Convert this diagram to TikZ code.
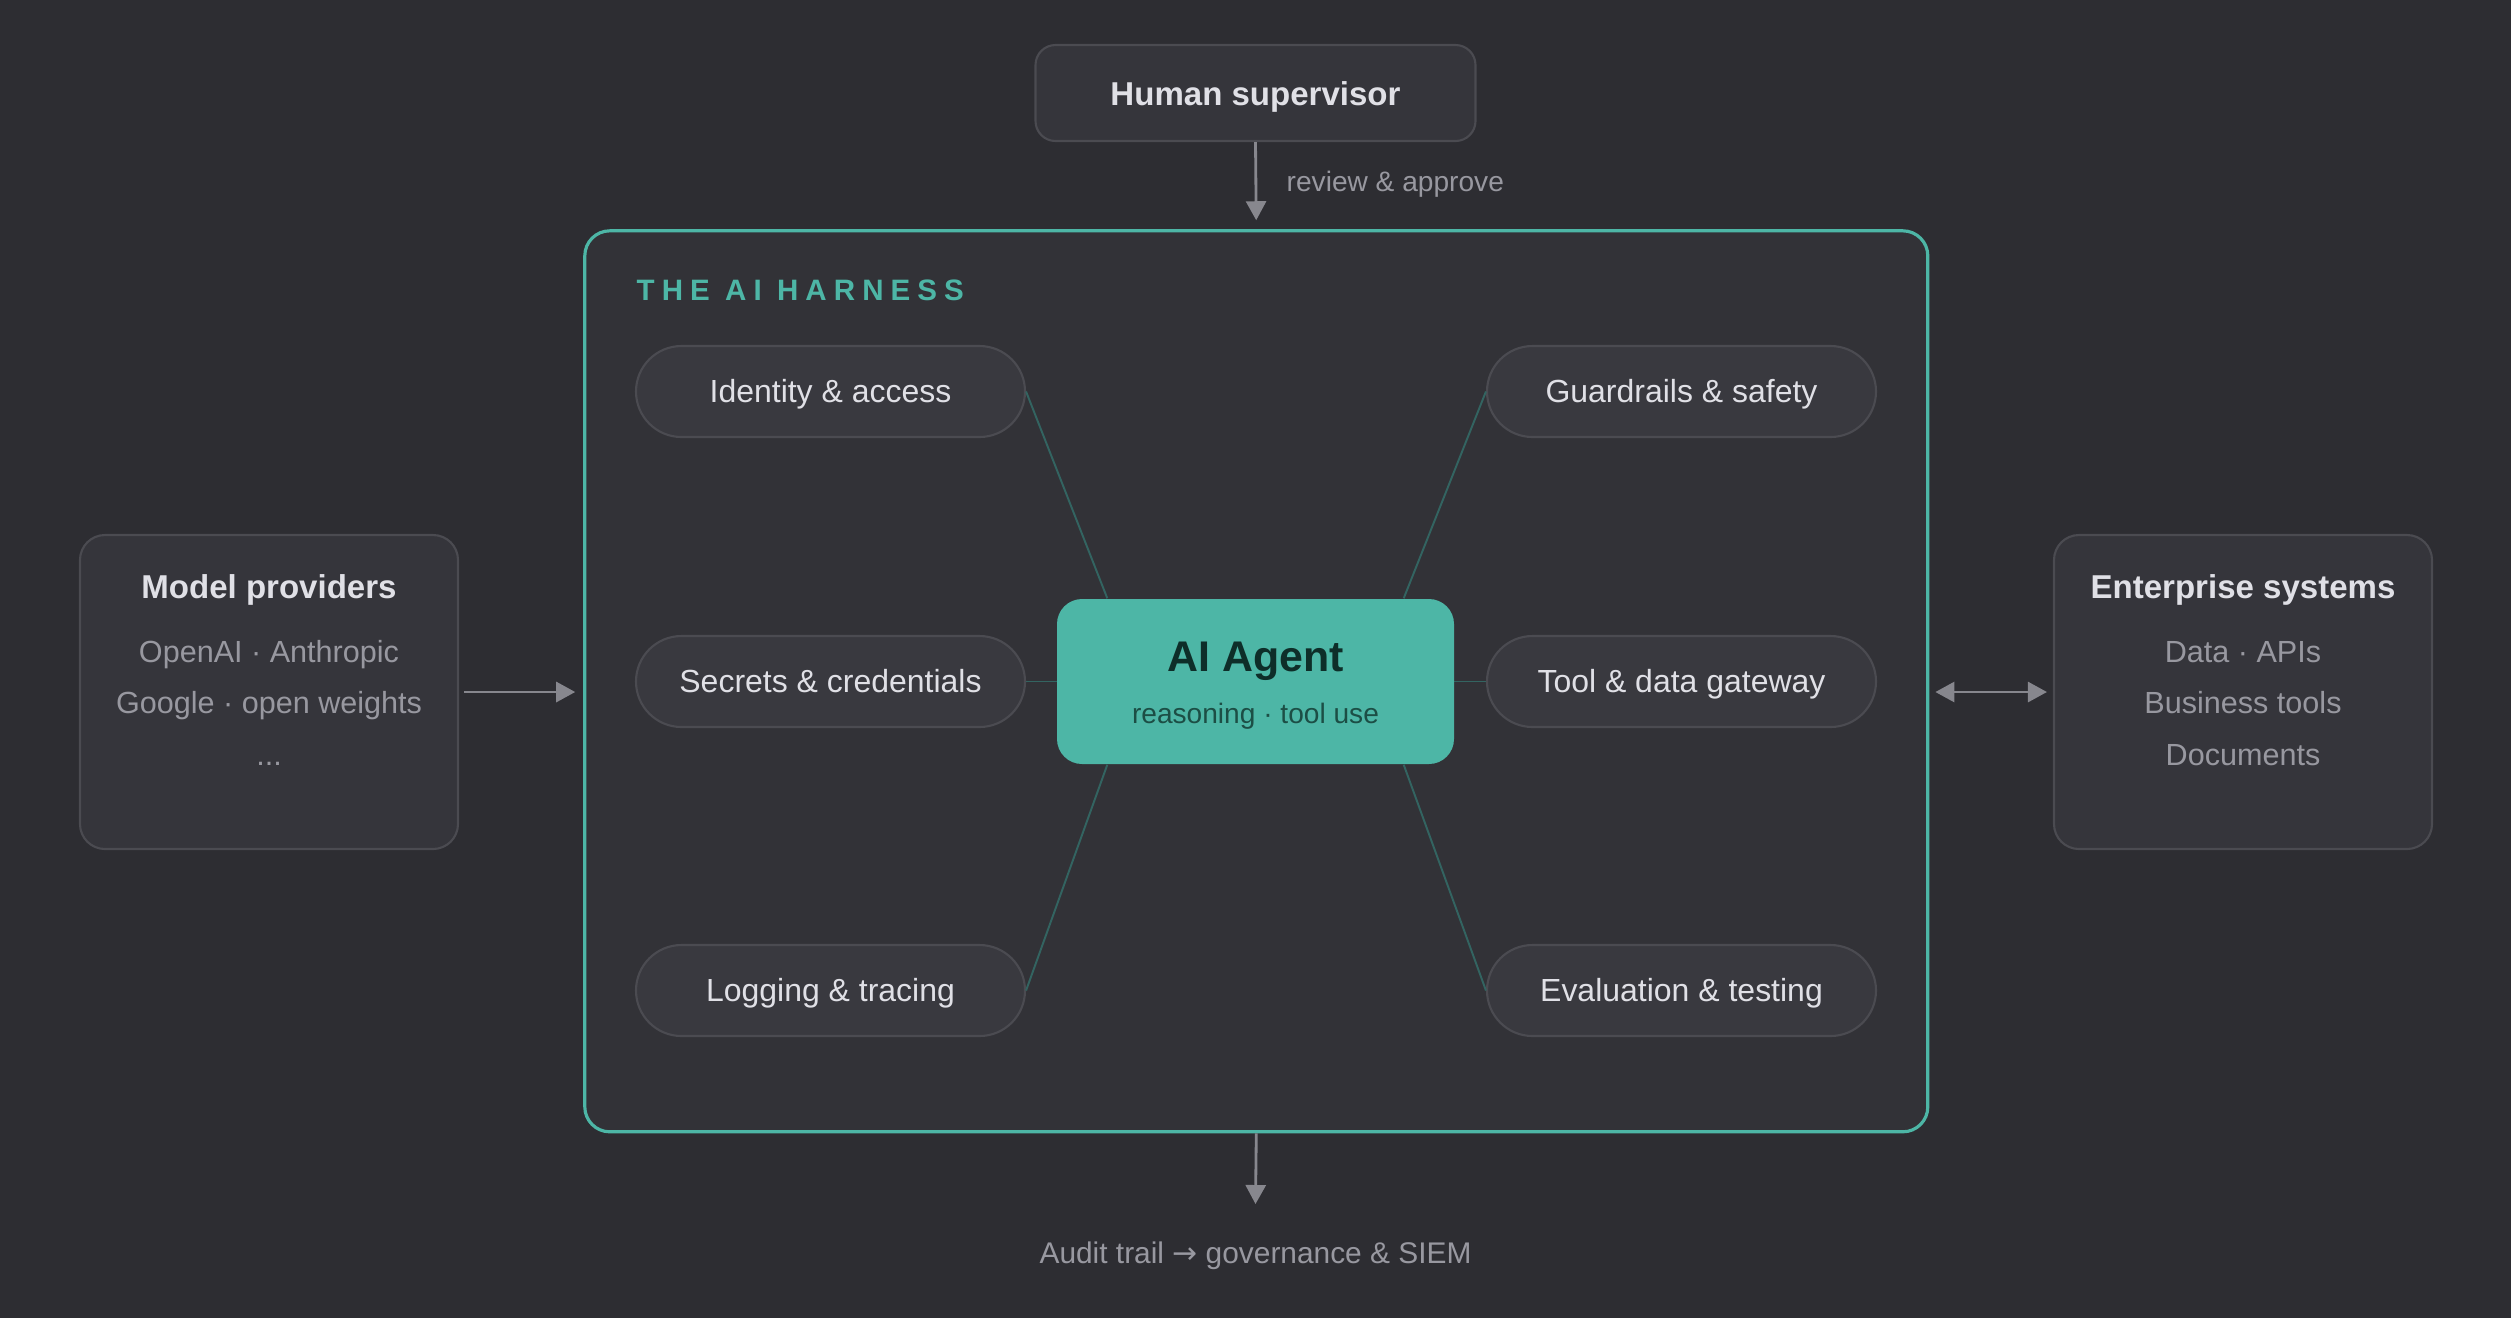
\documentclass[tikz,border=0pt]{standalone}
\usepackage{fontspec}
\setmainfont{Liberation Sans}
\newfontfamily\arrowfont{DejaVu Sans}
\usetikzlibrary{arrows.meta}

\definecolor{bgc}{RGB}{45,45,50}
\definecolor{harnessfill}{RGB}{50,50,55}
\definecolor{boxfill}{RGB}{53,53,59}
\definecolor{pillfill}{RGB}{57,57,63}
\definecolor{boxline}{RGB}{75,75,81}
\definecolor{teal}{RGB}{77,182,166}
\definecolor{agenttext}{RGB}{14,46,41}
\definecolor{agentsub}{RGB}{28,78,69}
\definecolor{lighttext}{RGB}{224,224,230}
\definecolor{graytext}{RGB}{152,152,160}
\definecolor{arrowgray}{RGB}{135,135,142}
\definecolor{linkteal}{RGB}{51,100,97}

\begin{document}
\begin{tikzpicture}[
supnode/.style={rectangle, draw=boxline, fill=boxfill, line width=0.6pt, rounded corners=0.2cm, minimum width=4.4cm, minimum height=0.96cm, text height=0.3cm, text depth=0.06cm, text=lighttext, font=\bfseries\fontsize{9.4}{11}\selectfont},
sidenode/.style={rectangle, draw=boxline, fill=boxfill, line width=0.6pt, rounded corners=0.25cm, minimum width=3.78cm, minimum height=3.14cm},
pillnode/.style={rectangle, draw=boxline, fill=pillfill, line width=0.6pt, rounded corners=0.455cm, minimum width=3.89cm, minimum height=0.91cm, text height=0.28cm, text depth=0.06cm, text=lighttext, font=\fontsize{9.1}{11}\selectfont},
agentnode/.style={rectangle, fill=teal, rounded corners=0.25cm, minimum width=3.97cm, minimum height=1.65cm},
titletext/.style={anchor=base, inner sep=0pt, text=lighttext, font=\bfseries\fontsize{9.4}{11}\selectfont},
graytext/.style={anchor=base, inner sep=0pt, text=graytext, font=\fontsize{8.7}{10}\selectfont},
link/.style={draw=linkteal, line width=0.55pt},
flow/.style={draw=arrowgray, line width=0.8pt, -{Triangle[width=0.2cm, length=0.19cm]}},]

\fill[bgc] (0, 0) rectangle (25.11, -13.18);

\node (sup) [supnode] at (12.555, -0.93) {Human supervisor};

\node (review) [graytext, anchor=base west, font=\fontsize{8.0}{10}\selectfont] at (12.86, -1.91) {review \& approve};

\node (harness) [rectangle, draw=teal, fill=harnessfill, line width=0.9pt, rounded corners=0.25cm, minimum width=13.43cm, minimum height=9.01cm] at (12.563, -6.813) {};

\node (harnesstitle) [anchor=base west, inner sep=0pt, text=teal, font=\bfseries\fontsize{8.4}{10}\selectfont\addfontfeatures{LetterSpace=24}] at (6.36, -3.0) {THE AI HARNESS};

\node (identity) [pillnode] at (8.305, -3.915) {Identity \& access};

\node (secrets) [pillnode] at (8.305, -6.815) {Secrets \& credentials};

\node (logging) [pillnode] at (8.305, -9.905) {Logging \& tracing};

\node (guardrails) [pillnode] at (16.815, -3.915) {Guardrails \& safety};

\node (gateway) [pillnode] at (16.815, -6.815) {Tool \& data gateway};

\node (evaluation) [pillnode] at (16.815, -9.905) {Evaluation \& testing};

\draw[link] (secrets.east) -- (gateway.west);

\node (agent) [agentnode] at (12.555, -6.815) {};

\draw[link] (identity.east) -- ([xshift=0.51cm]agent.north west);
\draw[link] (guardrails.west) -- ([xshift=-0.51cm]agent.north east);
\draw[link] (logging.east) -- ([xshift=0.51cm]agent.south west);
\draw[link] (evaluation.west) -- ([xshift=-0.51cm]agent.south east);

\node (agenttitle) [anchor=base, inner sep=0pt, text=agenttext, font=\bfseries\fontsize{12.2}{14}\selectfont] at (12.555, -6.71) {AI Agent};

\node (agentsub) [anchor=base, inner sep=0pt, text=agentsub, font=\fontsize{8.0}{9}\selectfont] at (12.555, -7.23) {reasoning · tool use};

\node (models) [sidenode] at (2.69, -6.92) {};

\node (modelstitle) [titletext] at (2.69, -5.98) {Model providers};

\node (models1) [graytext] at (2.69, -6.62) {OpenAI · Anthropic};

\node (models2) [graytext] at (2.69, -7.13) {Google · open weights};

\node (models3) [graytext] at (2.69, -7.65) {...};

\node (enterprise) [sidenode] at (22.43, -6.92) {};

\node (enterprisetitle) [titletext] at (22.43, -5.98) {Enterprise systems};

\node (enterprise1) [graytext] at (22.43, -6.62) {Data · APIs};

\node (enterprise2) [graytext] at (22.43, -7.13) {Business tools};

\node (enterprise3) [graytext] at (22.43, -7.65) {Documents};

\node (audit) [graytext, font=\fontsize{8.5}{10}\selectfont] at (12.555, -12.63) {Audit trail {\arrowfont →} governance \& SIEM};

\coordinate (audittip) at (12.555, -12.04);

\draw[flow, shorten >=0.09cm] (sup.south) -- (harness.north);
\draw[flow] (harness.south) -- (audittip);
\draw[flow, shorten <=0.05cm, shorten >=0.08cm] (models.east) -- (models.east -| harness.west);
\draw[flow, {Triangle[width=0.2cm, length=0.19cm]}-{Triangle[width=0.2cm, length=0.19cm]}, shorten <=0.06cm, shorten >=0.06cm] (enterprise.west -| harness.east) -- (enterprise.west);

\end{tikzpicture}
\end{document}
